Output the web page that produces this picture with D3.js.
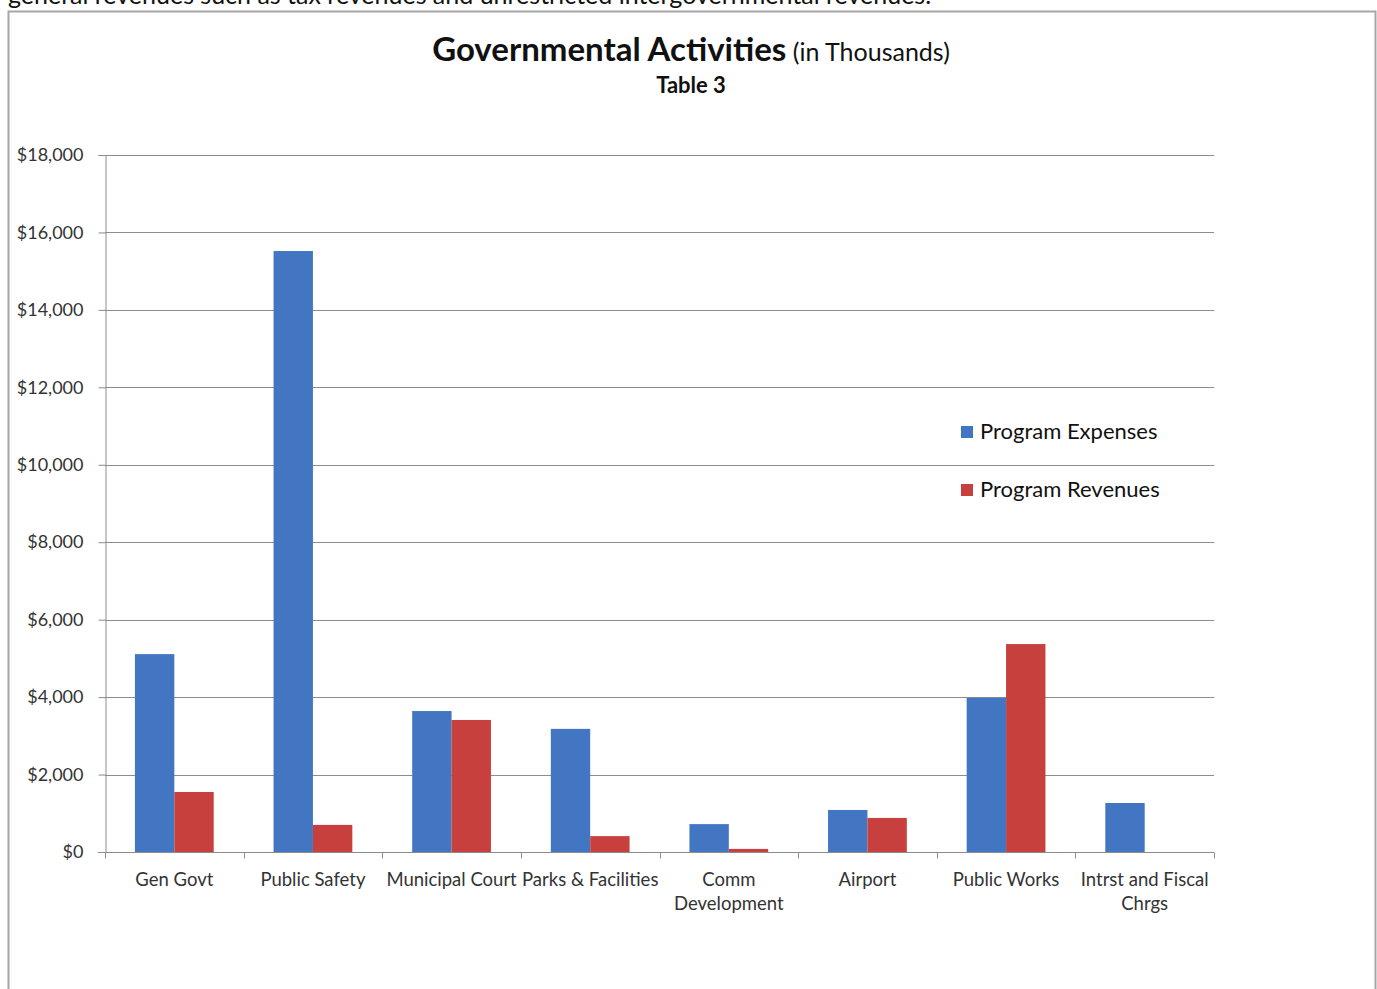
<!DOCTYPE html>
<html>
<head>
<meta charset="utf-8">
<script src="https://cdn.jsdelivr.net/npm/d3@7"></script>
<style>
  body { margin: 0; background: #fff; }
  svg { display: block; font-family: Lato, "Open Sans", sans-serif; }
</style>
</head>
<body>
<svg id="chart" width="1377" height="989"></svg>
<script>
const categories = [
  ['Gen Govt'], ['Public Safety'], ['Municipal Court'], ['Parks & Facilities'],
  ['Comm', 'Development'], ['Airport'], ['Public Works'], ['Intrst and Fiscal', 'Chrgs']
];
const seriesNames = ['Program Expenses', 'Program Revenues'];
const expenses = [5110, 15520, 3640, 3180, 720, 1085, 3980, 1265];
const revenues = [1550, 700, 3410, 410, 80, 880, 5370, 0];
const yTicks = [0, 2000, 4000, 6000, 8000, 10000, 12000, 14000, 16000, 18000];
const colors = ['#4275c2', '#c8403d'];

const svg = d3.select('#chart');
const m = {left: 105, right: 1214, top: 155, bottom: 852};

// page text above the chart, cut off at the top
svg.append('text').attr('x', 8).attr('y', 4)
  .attr('font-size', 25).attr('fill', '#111')
  .text('general revenues such as tax revenues and unrestricted intergovernmental revenues.');

// chart frame
svg.append('rect').attr('x', 8.5).attr('y', 11.5).attr('width', 1367).attr('height', 990)
  .attr('fill', '#fff').attr('stroke', '#a6a6a6').attr('stroke-width', 2);

const x = d3.scaleBand().domain(d3.range(categories.length)).range([m.left, m.right]);
const xs = d3.scaleBand().domain([0, 1]).range([0, x.bandwidth()]).paddingOuter(0.76).paddingInner(0);
const y = d3.scaleLinear().domain([0, 18000]).range([m.bottom, m.top]);

// gridlines
svg.append('g').selectAll('line').data(yTicks.slice(1)).join('line')
  .attr('x1', m.left).attr('x2', m.right)
  .attr('y1', d => Math.round(y(d)) + 0.5).attr('y2', d => Math.round(y(d)) + 0.5)
  .attr('stroke', '#8c8c8c').attr('stroke-width', 1);

// y axis
const yAxis = svg.append('g').attr('transform', `translate(${m.left + 0.5},0)`)
  .call(d3.axisLeft(y).tickValues(yTicks).tickSize(7).tickPadding(15)
    .tickFormat(d => '$' + d3.format(',')(d)));
yAxis.select('.domain').attr('stroke', '#8c8c8c');
yAxis.selectAll('.tick line').attr('stroke', '#8c8c8c');
yAxis.selectAll('.tick text').attr('font-size', 18).attr('fill', '#333')
  .attr('font-family', 'Lato, "Open Sans", sans-serif');

// bars
const data = categories.map((c, i) => [expenses[i], revenues[i]]);
const groups = svg.append('g').selectAll('g').data(data).join('g')
  .attr('transform', (d, i) => `translate(${x(i)},0)`);
groups.selectAll('rect').data(d => d).join('rect')
  .attr('x', (d, j) => xs(j))
  .attr('width', xs.bandwidth())
  .attr('y', d => y(d))
  .attr('height', d => y(0) - y(d))
  .attr('fill', (d, j) => colors[j]);

// x axis
const xAxis = svg.append('g').attr('transform', `translate(0,${m.bottom + 0.5})`);
xAxis.append('line').attr('x1', m.left - 7).attr('x2', m.right).attr('stroke', '#8c8c8c');
xAxis.selectAll('line.tk').data(d3.range(categories.length + 1)).join('line').attr('class', 'tk')
  .attr('x1', i => Math.round(m.left + i * x.bandwidth()) + 0.5)
  .attr('x2', i => Math.round(m.left + i * x.bandwidth()) + 0.5)
  .attr('y1', 0).attr('y2', 6).attr('stroke', '#8c8c8c');
xAxis.selectAll('text').data(categories).join('text')
  .attr('text-anchor', 'middle')
  .attr('font-size', 18.5).attr('fill', '#333')
  .attr('transform', (d, i) => `translate(${x(i) + x.bandwidth() / 2},33)`)
  .selectAll('tspan').data(d => d).join('tspan')
  .attr('x', 0).attr('dy', (d, k) => k === 0 ? 0 : 24).text(d => d);

// title
const title = svg.append('text').attr('x', 691).attr('y', 61).attr('text-anchor', 'middle').attr('fill', '#111');
title.append('tspan').attr('font-size', 33).attr('font-weight', 'bold').text('Governmental Activities');
title.append('tspan').attr('font-size', 25).text(' (in Thousands)');
svg.append('text').attr('x', 691).attr('y', 93).attr('text-anchor', 'middle')
  .attr('font-size', 22).attr('font-weight', 'bold')
  .attr('fill', '#111').text('Table 3');

// legend
const legend = svg.append('g').selectAll('g').data(seriesNames).join('g')
  .attr('transform', (d, i) => `translate(961,${426 + i * 58})`);
legend.append('rect').attr('width', 12).attr('height', 12).attr('fill', (d, i) => colors[i]);
legend.append('text').attr('x', 19).attr('y', 13)
  .attr('font-size', 22).attr('fill', '#111')
  .text(d => d);
</script>
</body>
</html>
